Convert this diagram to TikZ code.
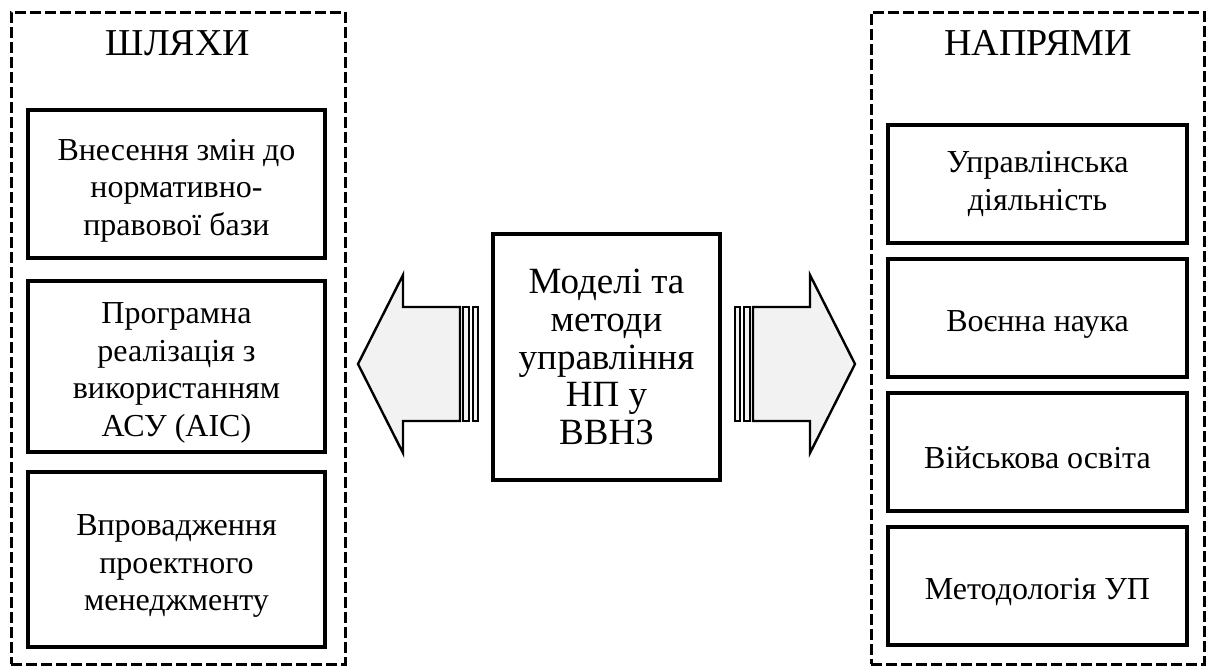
\documentclass[tikz,border=0pt]{standalone}
\usepackage{fontspec}
\setmainfont{Liberation Serif}
\definecolor{arrowfill}{HTML}{F2F2F2}
% tall invisible strut for the first line of a box
\newcommand{\firststrut}{\rule{0pt}{17pt}}
\tikzset{
  frame/.style={draw, line width=1.5pt, dash pattern=on 5.5pt off 2pt},
  item/.style={draw, line width=1.6pt, inner sep=0pt, align=center,
    font=\fontsize{16}{18.75}\selectfont},
  leftitem/.style={item, minimum width=148.5pt},
  rightitem/.style={item, minimum width=149.5pt, minimum height=59pt},
  title/.style={font=\fontsize{19}{22}\selectfont, anchor=base},
  blockarrow/.style={draw, line width=1.2pt, fill=arrowfill, line join=miter},
}
\begin{document}
\begin{tikzpicture}[x=0.5pt, y=-0.5pt]
\useasboundingbox (0,0) rectangle (1206,666);

% left group: ways
\node[frame, minimum width=167pt, minimum height=326pt] (ways) at (178,338) {};
\node[title] (waystitle) at (178,55) {ШЛЯХИ};
\node[leftitem, minimum height=74pt] (w1) at (176.5,184)
  {\firststrut Внесення змін до\\нормативно-\\правової бази};
\node[leftitem, minimum height=85.5pt] (w2) at (176.5,366.5)
  {\firststrut Програмна\\реалізація з\\використанням\\АСУ (АІС)};
\node[leftitem, minimum height=87.5pt] (w3) at (176.5,559.5)
  {\firststrut Впровадження\\проектного\\менеджменту};

% right group: directions
\node[frame, minimum width=166.5pt, minimum height=326pt] (dirs) at (1037.5,338) {};
\node[title] (dirstitle) at (1038,55) {НАПРЯМИ};
\node[rightitem] (d1) at (1037.5,184) {Управлінська\\діяльність};
\node[rightitem] (d2) at (1037.5,318) {\firststrut Воєнна наука};
\node[rightitem] (d3) at (1037.5,452) {\firststrut Військова освіта};
\node[rightitem] (d4) at (1037.5,586) {\firststrut Методологія УП};

% central block
\node[item, minimum width=113.5pt, minimum height=123pt,
  font=\fontsize{18.5}{18.85}\selectfont] (core) at (606.5,357)
  {Моделі та\\методи\\управління\\НП у\\ВВНЗ};

% striped block arrow pointing left
\draw[blockarrow] (358,364) -- (403,275) -- (403,307) -- (460,307)
  -- (460,421) -- (403,421) -- (403,453) -- cycle;
\draw[blockarrow] (463,307) rectangle (469,421);
\draw[blockarrow] (473,307) rectangle (478,421);

% striped block arrow pointing right
\draw[blockarrow] (855,364) -- (810,275) -- (810,307) -- (753,307)
  -- (753,421) -- (810,421) -- (810,453) -- cycle;
\draw[blockarrow] (750,307) rectangle (744,421);
\draw[blockarrow] (740,307) rectangle (735,421);
\end{tikzpicture}
\end{document}
